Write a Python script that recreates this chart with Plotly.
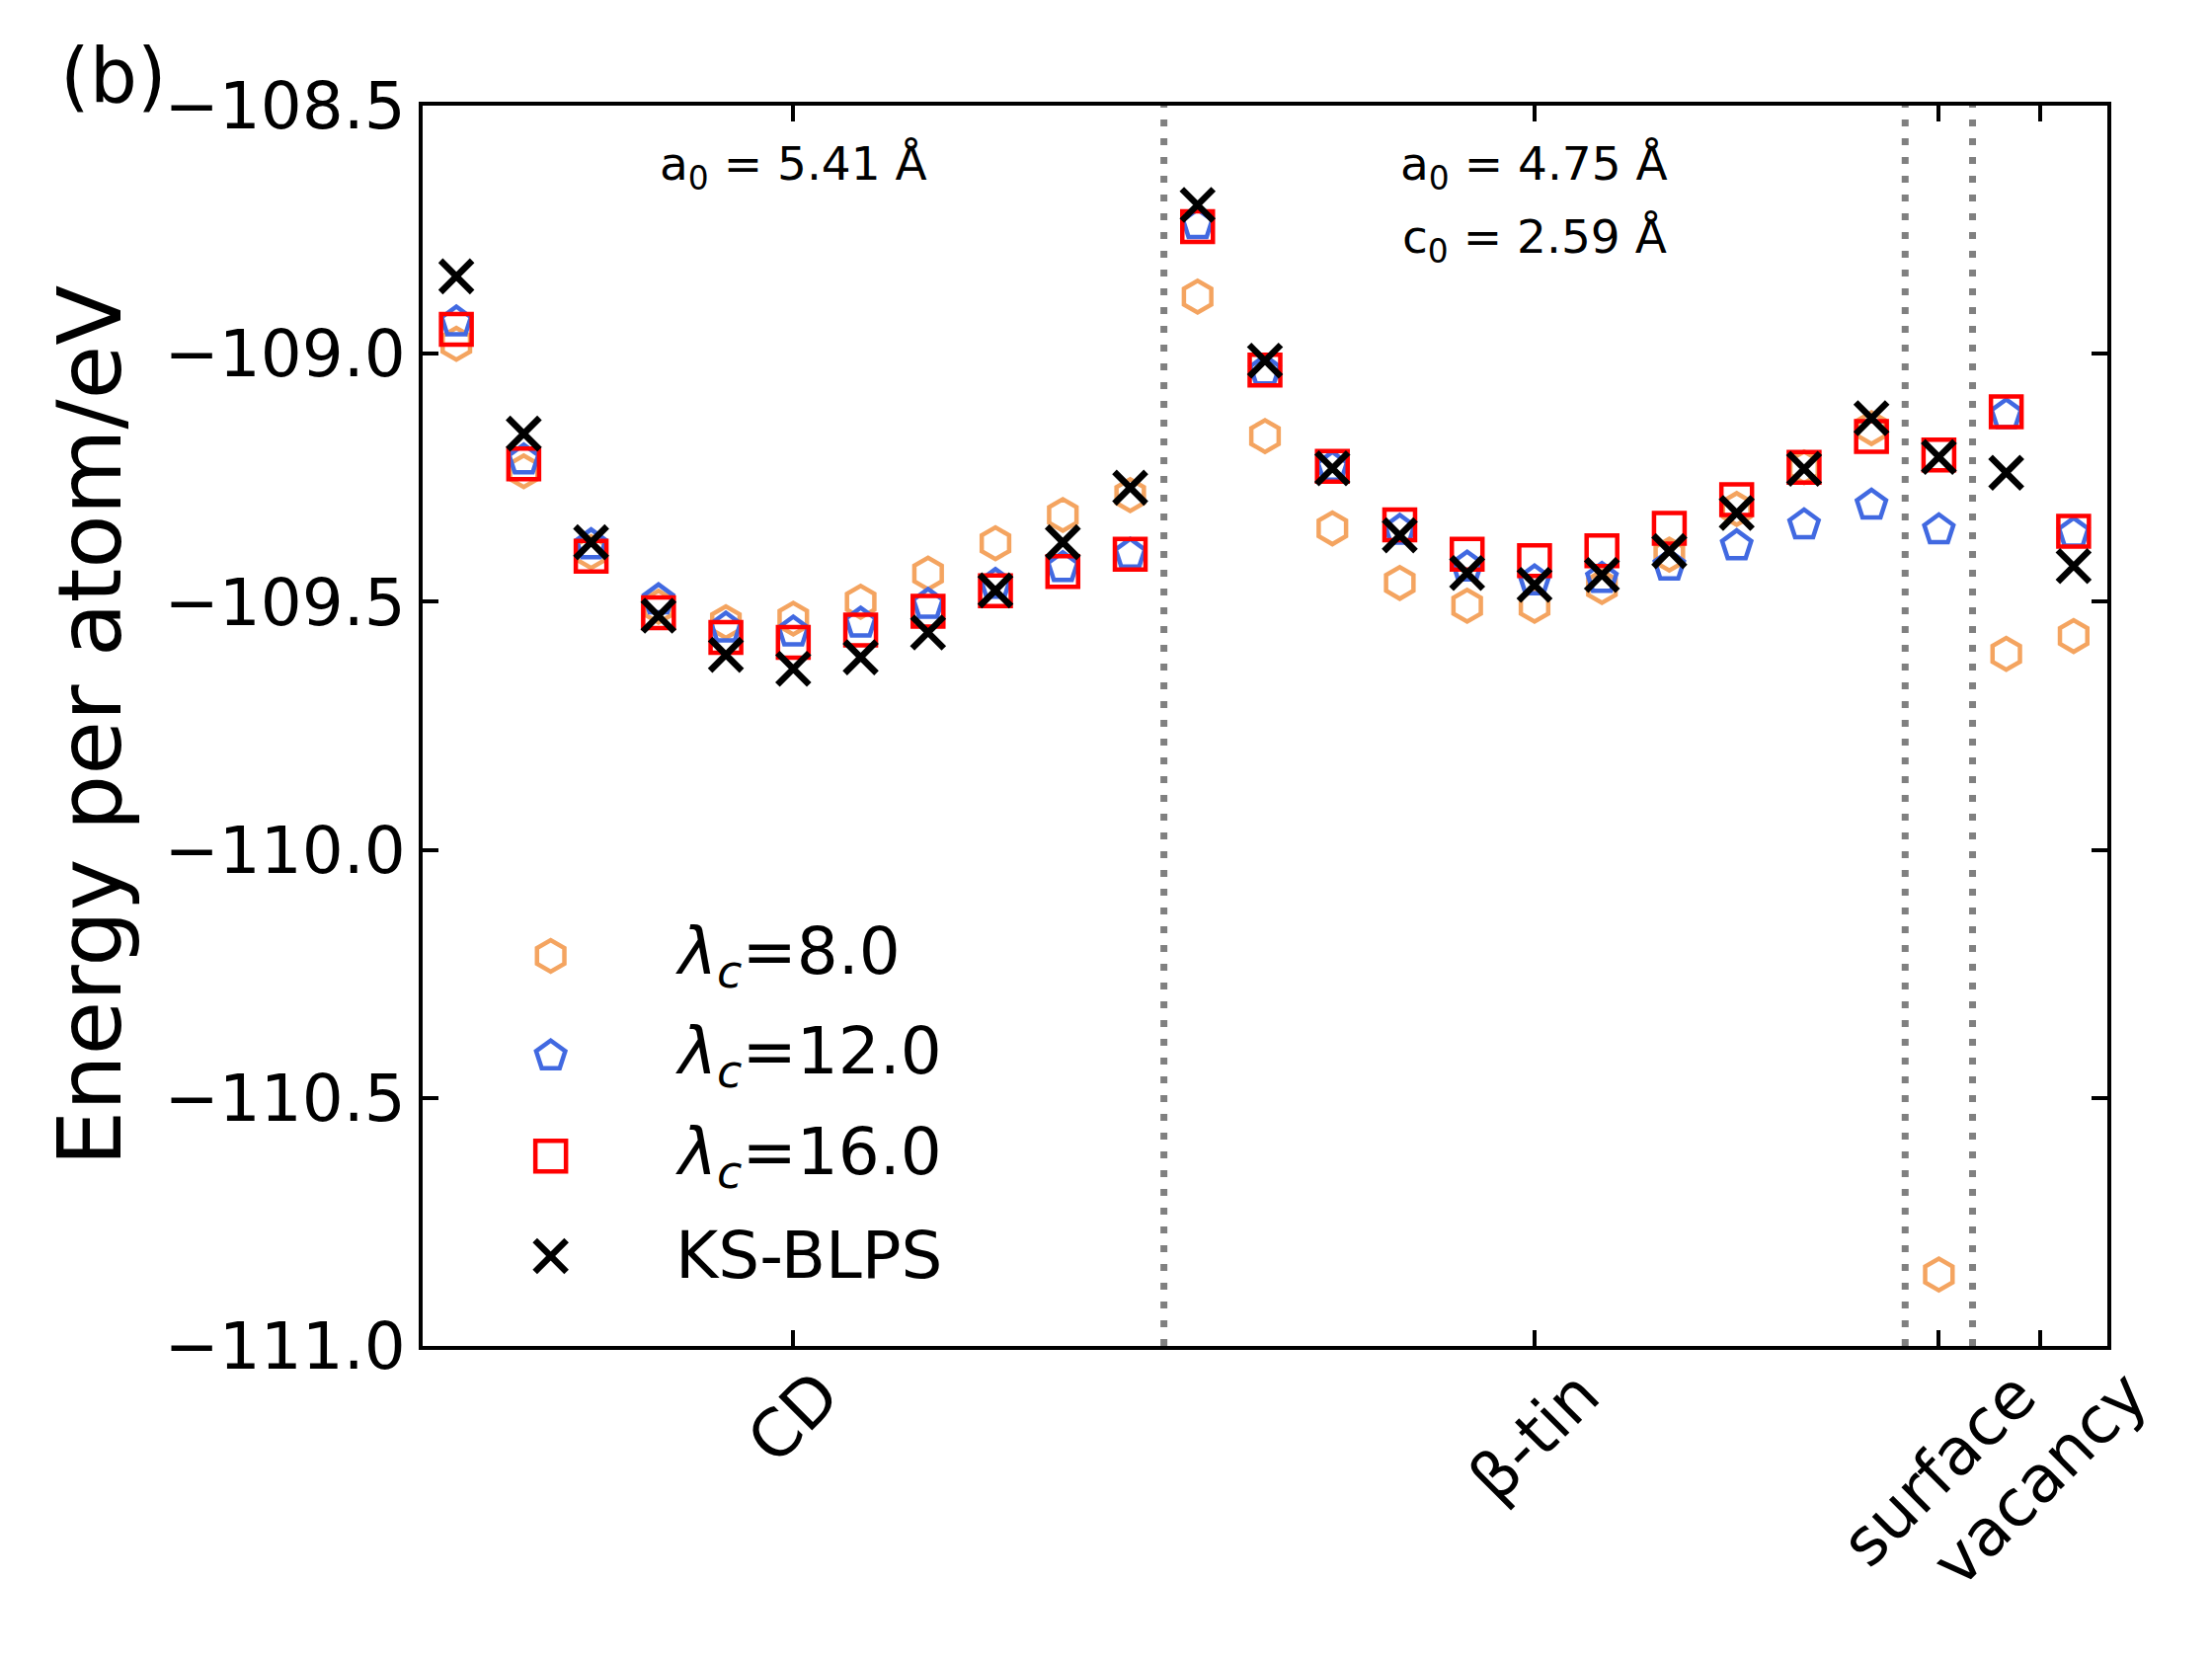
import plotly.graph_objects as go

# structure positions (one slot per calculation)
x_pos = list(range(25))
tick_pos = [5, 16, 22, 23.5]
tick_text = ["CD", "β-tin", "surface", "vacancy"]
separators = [10.5, 21.5, 22.5]

# energies per atom (eV)
e_lam8 = [-108.980, -109.237, -109.400, -109.510, -109.541, -109.534, -109.500, -109.443,
          -109.382, -109.325, -109.285, -108.885, -109.166, -109.352, -109.462, -109.508,
          -109.508, -109.470, -109.405, -109.313, -109.229, -109.150, -110.856, -109.605,
          -109.569]
e_lam12 = [-108.936, -109.214, -109.385, -109.496, -109.553, -109.561, -109.543, -109.505,
           -109.465, -109.431, -109.404, -108.740, -109.035, -109.229, -109.356, -109.430,
           -109.458, -109.453, -109.428, -109.387, -109.345, -109.305, -109.355, -109.123,
           -109.362]
e_lam16 = [-108.951, -109.222, -109.408, -109.522, -109.572, -109.582, -109.557, -109.519,
           -109.478, -109.439, -109.404, -108.744, -109.033, -109.227, -109.345, -109.404,
           -109.417, -109.397, -109.352, -109.294, -109.229, -109.167, -109.204, -109.117,
           -109.358]
e_ks = [-108.844, -109.161, -109.380, -109.528, -109.607, -109.635, -109.612, -109.562,
        -109.477, -109.380, -109.270, -108.700, -109.014, -109.231, -109.366, -109.442,
        -109.466, -109.446, -109.398, -109.321, -109.232, -109.130, -109.208, -109.240,
        -109.428]

names = ["<i>λ</i><sub><i>c</i></sub>=8.0", "<i>λ</i><sub><i>c</i></sub>=12.0",
         "<i>λ</i><sub><i>c</i></sub>=16.0", "KS-BLPS"]
lattice_cd = ["a<sub>0</sub> = 5.41 Å"]
lattice_tin = ["a<sub>0</sub> = 4.75 Å", "c<sub>0</sub> = 2.59 Å"]

FONT = "DejaVu Sans"
styles = [
    dict(symbol="hexagon-open", size=32, color="#F4A460", line=dict(width=4.5, color="#F4A460")),
    dict(symbol="pentagon-open", size=31, color="#4169E1", line=dict(width=4.5, color="#4169E1")),
    dict(symbol="square-open", size=31, color="#FF0000", line=dict(width=4.5, color="#FF0000")),
    dict(symbol="x-thin", size=32, color="black", line=dict(width=6.5, color="black")),
]

fig = go.Figure()
for ys, st, nm in zip([e_lam8, e_lam12, e_lam16, e_ks], styles, names):
    fig.add_trace(go.Scatter(x=x_pos, y=ys, mode="markers", marker=st, name=nm,
                             showlegend=False, cliponaxis=False))

# hand-made legend on an overlay axis so markers keep their full size
leg_rows = [0.3145, 0.2339, 0.1531, 0.0725]
for st, nm, yy in zip(styles, names, leg_rows):
    fig.add_trace(go.Scatter(x=[0.076], y=[yy], mode="markers", marker=st,
                             xaxis="x2", yaxis="y2", showlegend=False, hoverinfo="skip"))
    fig.add_annotation(x=0.1487, y=yy, xref="x2", yref="y2", text=nm, showarrow=False,
                       xanchor="left", yanchor="middle", yshift=0,
                       font=dict(family=FONT, size=66, color="black"))

for xs in separators:
    fig.add_shape(type="line", xref="x", yref="paper", x0=xs, x1=xs, y0=0, y1=1,
                  line=dict(color="#808080", width=7, dash="7px,12px"))

# rotated category labels, centred under their ticks like matplotlib does
for tx, tt in zip(tick_pos, tick_text):
    fig.add_annotation(x=tx, y=0, xref="x", yref="paper", text=tt, showarrow=False,
                       textangle=-45, xanchor="center", yanchor="top", yshift=-8,
                       font=dict(family=FONT, size=66, color="black"))

fig.add_annotation(x=tick_pos[0], y=0.9506, xref="x", yref="paper", text=lattice_cd[0],
                   showarrow=False, xanchor="center", yanchor="middle",
                   font=dict(family=FONT, size=47, color="black"))
for txt, yy in zip(lattice_tin, [0.9506, 0.8917]):
    fig.add_annotation(x=tick_pos[1], y=yy, xref="x", yref="paper", text=txt,
                       showarrow=False, xanchor="center", yanchor="middle",
                       font=dict(family=FONT, size=47, color="black"))

fig.add_annotation(x=-0.2161, y=1.0239, xref="paper", yref="paper", text="(b)",
                   showarrow=False, xanchor="left", yanchor="middle",
                   font=dict(family=FONT, size=76, color="black"))

axis_common = dict(showline=True, linecolor="black", linewidth=4, mirror="ticks",
                   ticks="inside", ticklen=16, tickwidth=4, tickcolor="black",
                   showgrid=False, zeroline=False)

fig.update_layout(
    width=2240, height=1680,
    # the page body adds 8px on the left and top, so margins are trimmed to suit
    margin=dict(l=420, r=114, t=99, b=325, pad=0),
    paper_bgcolor="white", plot_bgcolor="white",
    font=dict(family=FONT, color="black"),
    xaxis=dict(range=[-0.5, 24.5], tickvals=tick_pos, ticktext=["", "", "", ""], **axis_common),
    yaxis=dict(range=[-111.0, -108.5], tickvals=[-111.0, -110.5, -110.0, -109.5, -109.0, -108.5],
               tickformat=".1f", tickfont=dict(family=FONT, size=66),
               title=dict(text="Energy per atom/eV", font=dict(family=FONT, size=89), standoff=15),
               **axis_common),
    xaxis2=dict(range=[0, 1], overlaying="x", visible=False),
    yaxis2=dict(range=[0, 1], overlaying="y", visible=False),
    showlegend=False,
)

fig.write_html("out.html")
